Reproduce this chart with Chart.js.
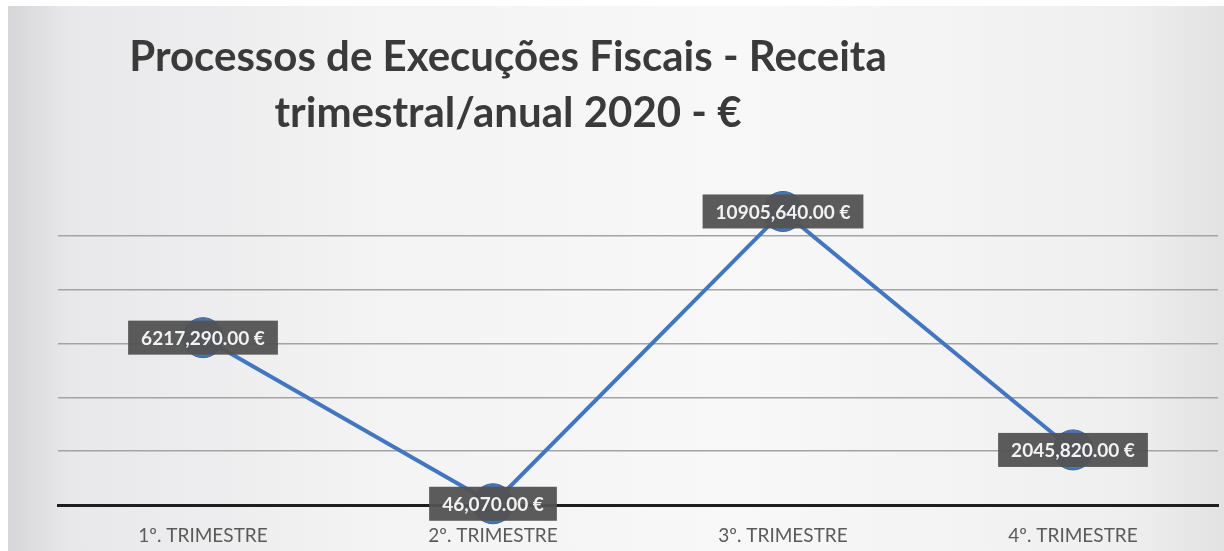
<!DOCTYPE html>
<html>
<head>
<meta charset="utf-8">
<script src="https://cdn.jsdelivr.net/npm/chart.js@4"></script>
<style>
html,body{margin:0;padding:0;background:#fff;}
canvas{display:block;}
</style>
</head>
<body>
<canvas id="c" width="1224" height="551"></canvas>
<script>
const titleLines = ["Processos de Execuções Fiscais - Receita", "trimestral/anual 2020 - €"];
const categories = ["1º. TRIMESTRE", "2º. TRIMESTRE", "3º. TRIMESTRE", "4º. TRIMESTRE"];
const receita = [6217290.00, 46070.00, 10905640.00, 2045820.00];
const valueLabels = ["6217,290.00 €", "46,070.00 €", "10905,640.00 €", "2045,820.00 €"];
const yMin = 0, yMax = 12000000, yStep = 2000000;

const bgPlugin = {
  id: 'bg',
  beforeDraw(chart) {
    const ctx = chart.ctx, w = chart.width, h = chart.height;
    ctx.save();
    ctx.fillStyle = '#ffffff';
    ctx.fillRect(0, 0, w, h);
    const g = ctx.createLinearGradient(8, 0, w, 0);
    g.addColorStop(0, '#d6d6d9');
    g.addColorStop(0.05, '#e8e8ea');
    g.addColorStop(0.3, '#f3f3f4');
    g.addColorStop(0.6, '#f8f8f8');
    g.addColorStop(0.92, '#efefef');
    g.addColorStop(1, '#e2e2e2');
    ctx.fillStyle = g;
    ctx.fillRect(8, 6, w - 8, h - 6);
    ctx.restore();
  }
};

const titlePlugin = {
  id: 'titleText',
  afterDraw(chart) {
    const ctx = chart.ctx;
    ctx.save();
    ctx.fillStyle = '#3a3a3a';
    ctx.font = 'bold 42px Lato, "Open Sans", sans-serif';
    ctx.textAlign = 'center';
    ctx.textBaseline = 'alphabetic';
    ctx.fillText(titleLines[0], 508, 71);
    ctx.fillText(titleLines[1], 508, 127);
    ctx.restore();
  }
};

const labelPlugin = {
  id: 'valueBoxes',
  afterDatasetsDraw(chart) {
    const ctx = chart.ctx;
    const meta = chart.getDatasetMeta(0);
    ctx.save();
    ctx.font = 'bold 19px Lato, "Open Sans", sans-serif';
    ctx.textAlign = 'center';
    ctx.textBaseline = 'middle';
    meta.data.forEach((pt, i) => {
      const txt = valueLabels[i];
      const tw = ctx.measureText(txt).width;
      const bw = tw + 26, bh = 34;
      ctx.fillStyle = 'rgba(82,82,82,0.95)';
      ctx.fillRect(pt.x - bw / 2, pt.y - bh / 2, bw, bh);
      ctx.fillStyle = '#f2f2f2';
      ctx.fillText(txt, pt.x, pt.y + 1);
    });
    ctx.restore();
  }
};

new Chart(document.getElementById('c'), {
  type: 'line',
  data: {
    labels: categories,
    datasets: [{
      data: receita,
      borderColor: '#4376c0',
      borderWidth: 4,
      pointRadius: 20,
      pointBackgroundColor: '#4a75b0',
      pointBorderColor: '#3c66a2',
      pointBorderWidth: 1,
      tension: 0,
      clip: false
    }]
  },
  options: {
    responsive: false,
    animation: false,
    events: [],
    layout: { autoPadding: false, padding: { left: 58, right: 6, top: 182, bottom: 0 } },
    plugins: { legend: { display: false }, title: { display: false }, tooltip: { enabled: false } },
    scales: {
      x: {
        offset: true,
        afterFit(scale) { scale.height = 46; scale.paddingLeft = 0; scale.paddingRight = 0; },
        grid: { display: false, drawTicks: false },
        border: { display: true, color: '#1e1e1e', width: 3 },
        ticks: { color: '#5a5a5a', font: { family: 'Lato, "Open Sans", sans-serif', size: 19 }, padding: 19, maxRotation: 0 }
      },
      y: {
        min: yMin, max: yMax,
        ticks: { display: false, stepSize: yStep },
        border: { display: false },
        grid: {
          drawTicks: false,
          lineWidth: 1.5,
          color: (c) => (c.tick && (c.tick.value === yMax || c.tick.value === yMin)) ? 'rgba(0,0,0,0)' : '#a3a3a3'
        }
      }
    }
  },
  plugins: [bgPlugin, labelPlugin, titlePlugin]
});
</script>
</body>
</html>
